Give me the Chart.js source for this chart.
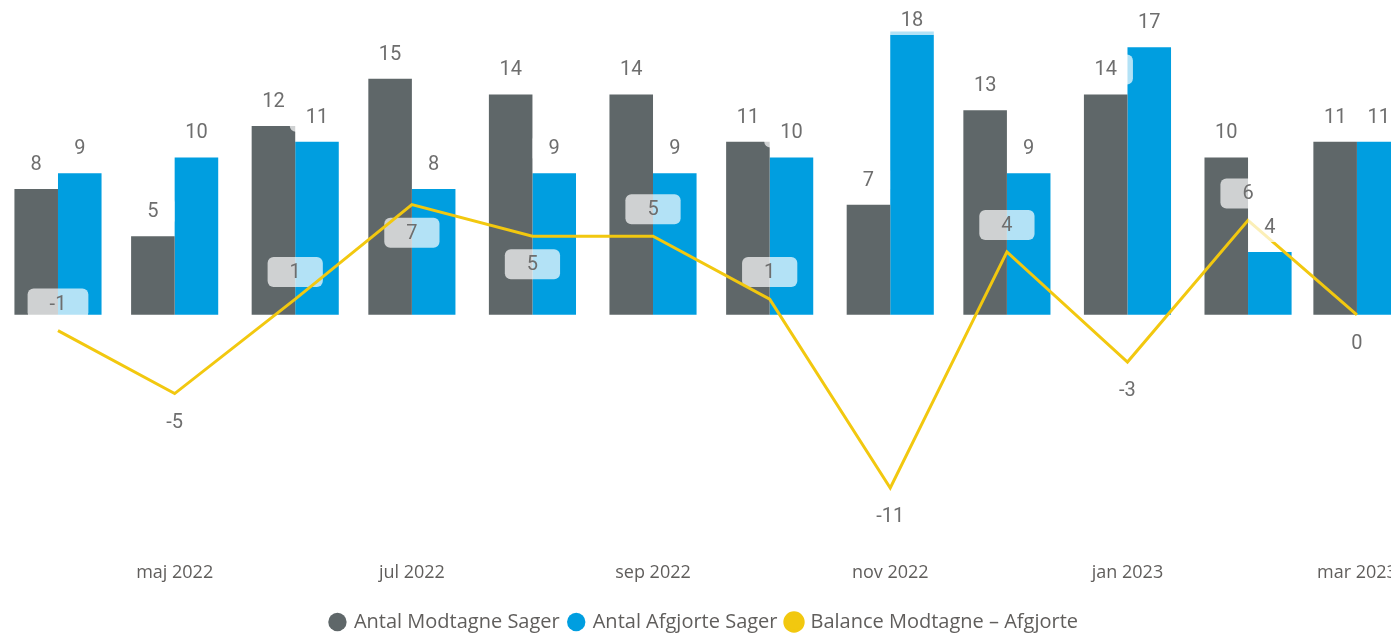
<!DOCTYPE html>
<html><head><meta charset="utf-8">
<script src="https://cdn.jsdelivr.net/npm/chart.js@4/dist/chart.umd.min.js"></script>
<style>html,body{margin:0;padding:0;background:#fff;overflow:hidden}#wrap{width:1391px;height:634px;position:relative}</style>
</head><body><div id="wrap"><canvas id="c"></canvas></div>
<script>
const categories = ['apr 2022','maj 2022','jun 2022','jul 2022','aug 2022','sep 2022','okt 2022','nov 2022','dec 2022','jan 2023','feb 2023','mar 2023'];
const modtagne = [8,5,12,15,14,14,11,7,13,14,10,11];
const afgjorte = [9,10,11,8,9,9,10,18,9,17,4,11];
const balance = [-1,-5,1,7,5,5,1,-11,4,-3,6,0];
const tickLabelIndexes = [1,3,5,7,9,11];
const balanceLabelSide = ['above','below','above','below','below','above','above','below','above','below','above','below'];

// continuous date axis: each month sits at its first day, counted in days from apr 2022
const DAY = 86400000;
const monthDay = categories.map((c, i) => (Date.UTC(2022, 3 + i, 1) - Date.UTC(2022, 3, 1)) / DAY);

const GRAY = '#5f6769', BLUE = '#009ee0', YELLOW = '#f2c80f';
const LABEL_FONT = '400 20px Roboto';
const LABEL_COLOR = '#6e6e6e';

function drawLabel(ctx, text, x, y, padX) {
  ctx.save();
  ctx.font = LABEL_FONT;
  const w = ctx.measureText(text).width + padX * 2;
  const h = 30;
  ctx.fillStyle = 'rgba(255,255,255,0.7)';
  ctx.beginPath();
  ctx.roundRect(x - w / 2, y - h / 2, w, h, 6);
  ctx.fill();
  ctx.fillStyle = LABEL_COLOR;
  ctx.textAlign = 'center';
  ctx.textBaseline = 'middle';
  ctx.fillText(text, x, y + 1);
  ctx.restore();
}

const labelPlugin = {
  id: 'valueLabels',
  afterInit(chart) {
    const lg = chart.legend;
    if (lg) {
      const f = lg.fit.bind(lg);
      lg.fit = function () { f(); this.height = 32; };
    }
  },
  afterLayout(chart) {
    const lg = chart.legend;
    if (lg) { lg.left += 9; lg.right += 9; }
  },
  beforeDatasetDraw(chart, args) {
    if (args.index !== 2) return;
    const meta = chart.getDatasetMeta(2);
    const ds = chart.data.datasets[2];
    meta.data.forEach((pt, i) => {
      const side = balanceLabelSide[i];
      const y = side === 'above' ? pt.y - 27 : pt.y + 28;
      drawLabel(chart.ctx, String(ds.data[i].y), pt.x, y, 22);
    });
  },
  afterDatasetsDraw(chart) {
    [0, 1].forEach(di => {
      const meta = chart.getDatasetMeta(di);
      const ds = chart.data.datasets[di];
      meta.data.forEach((bar, i) => {
        const y = Math.max(bar.y - 25, 20);
        drawLabel(chart.ctx, String(ds.data[i].y), bar.x, y, 16);
      });
    });
  }
};

const toPoints = arr => arr.map((v, i) => ({ x: monthDay[i], y: v }));

new Chart(document.getElementById('c'), {
  type: 'bar',
  data: {
    datasets: [
      { type: 'bar', label: 'Antal Modtagne Sager', data: toPoints(modtagne), backgroundColor: GRAY, order: 1,
        barPercentage: 1, categoryPercentage: 0.80 },
      { type: 'bar', label: 'Antal Afgjorte Sager', data: toPoints(afgjorte), backgroundColor: BLUE, order: 1,
        barPercentage: 1, categoryPercentage: 0.80 },
      { type: 'line', label: 'Balance Modtagne – Afgjorte', data: toPoints(balance), borderColor: YELLOW,
        backgroundColor: YELLOW, borderWidth: 3, pointRadius: 0, tension: 0, order: 0 }
    ]
  },
  options: {
    responsive: true,
    maintainAspectRatio: false,
    animation: false,
    layout: { padding: 0 },
    plugins: {
      tooltip: { enabled: false },
      legend: {
        position: 'bottom',
        labels: {
          usePointStyle: true, pointStyle: 'circle', boxWidth: 13, boxHeight: 13, padding: 10,
          color: '#605e5c', font: { family: 'Open Sans', size: 20 },
          sort: (a, b) => a.datasetIndex - b.datasetIndex
        }
      }
    },
    scales: {
      x: {
        type: 'linear', min: -14.91, max: 342.76, offset: false,
        grid: { display: false, drawTicks: false }, border: { display: false },
        afterBuildTicks: s => { s.ticks = tickLabelIndexes.map(i => ({ value: monthDay[i] })); },
        afterFit: s => { s.height = 51; s.paddingLeft = 0; s.paddingRight = 0; },
        ticks: { autoSkip: false, maxRotation: 0, padding: 11, color: '#605e5c',
          font: { family: 'Open Sans', size: 18 }, callback: v => categories[monthDay.indexOf(v)] }
      },
      y: { display: false, min: -15, max: 20 }
    }
  },
  plugins: [labelPlugin]
});
</script>
</body></html>
